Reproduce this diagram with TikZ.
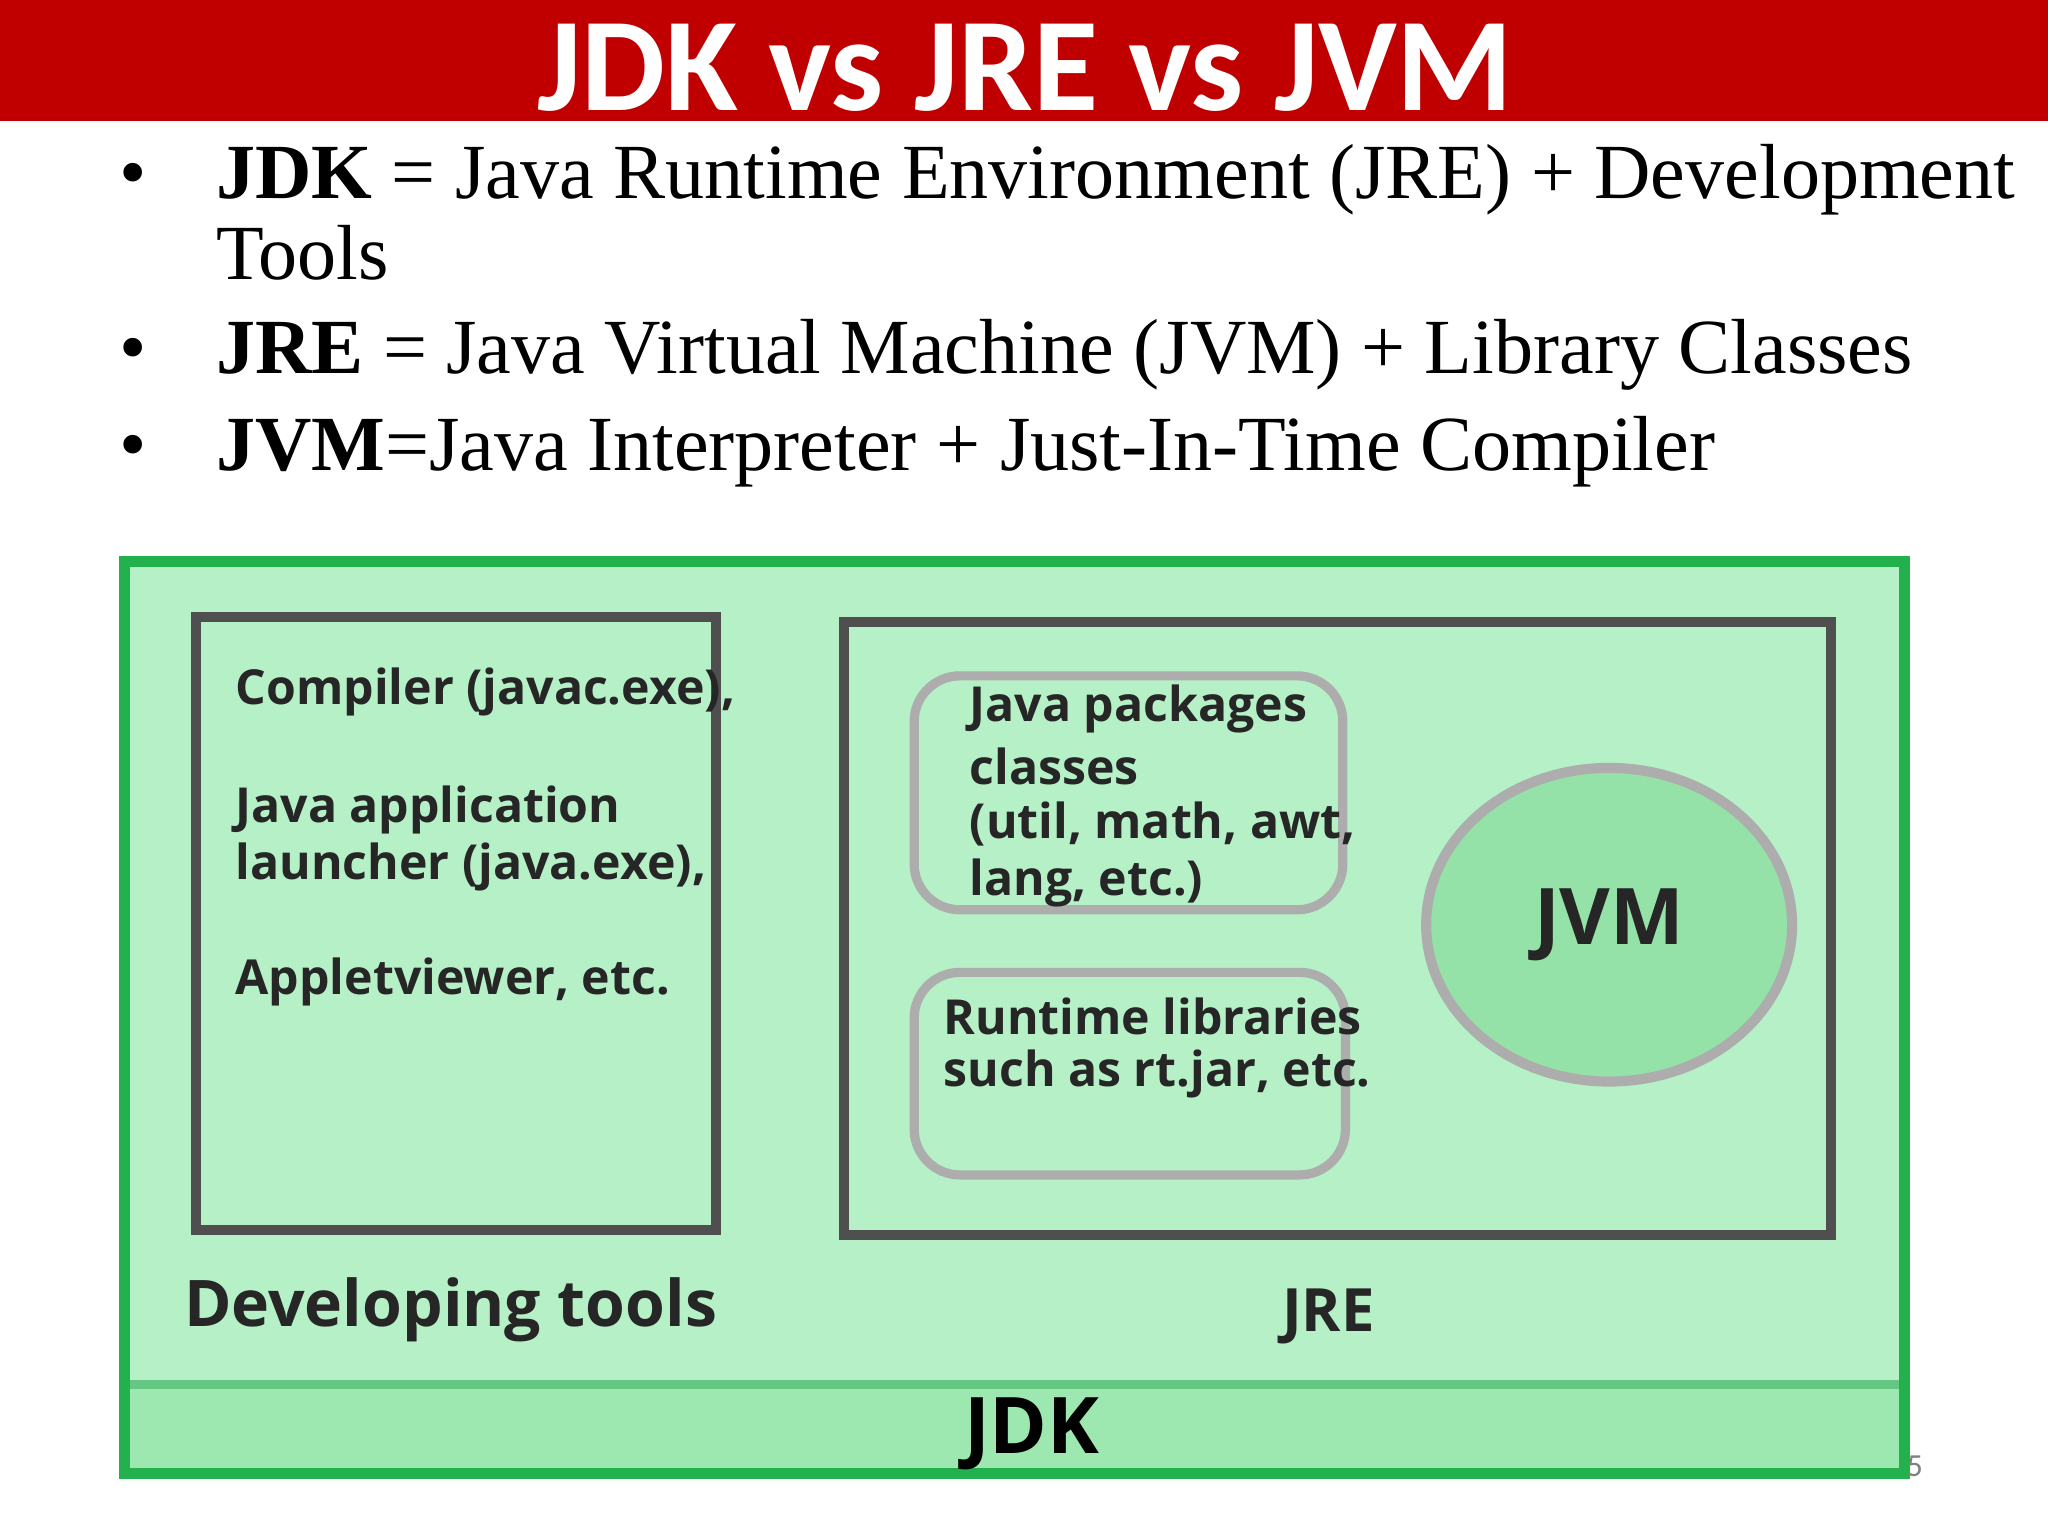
\documentclass[tikz,border=0pt]{standalone}
\usepackage{fontspec}
\setmainfont{Liberation Serif}
\setsansfont{Carlito}
\newfontfamily\boxfont{Open Sans}
\usepackage{xcolor}
\definecolor{bannerRed}{HTML}{C00000}
\definecolor{jdkGreen}{HTML}{22B14C}
\definecolor{jdkFill}{HTML}{B5F0C6}
\definecolor{bandFill}{HTML}{9DE8B0}
\definecolor{boxGray}{HTML}{4F4F4F}
\definecolor{roundGray}{HTML}{ADADAD}
\definecolor{jvmFill}{HTML}{95E2A8}
\usetikzlibrary{positioning,calc,shapes.geometric}
\tikzset{
  toolBox/.style={
    rectangle,
    draw=boxGray,
    line width=2.2pt
 },
  libBox/.style={
    rectangle,
    rounded corners=0.35cm,
    draw=roundGray,
    line width=2pt
 },
  boxText/.style={
    anchor=west,
    font=\boxfont\bfseries\fontsize{10.5}{12}\selectfont,
    text=black!85
 },
  bulletText/.style={
    anchor=base west,
    font=\fontsize{17}{20}\selectfont
 }
}
\begin{document}
\begin{tikzpicture}[x=0.01cm,y=-0.01cm]
  \useasboundingbox (0,0) rectangle (1568,1176);
  \fill[white] (0,0) rectangle (1568,1176);

  % banner
  \fill[bannerRed] (0,0) rectangle (1568,93);
  \node[text=white, font=\sffamily\bfseries\fontsize{29}{32}\selectfont] (title) at (785,52) {JDK vs JRE vs JVM};

  % bullets
  \foreach \y in {152,286,360}
    \node[anchor=base, font=\fontsize{17}{20}\selectfont] at (102,\y) {\textbullet};
  \node[bulletText] (jdkline) at (153,152) {\textbf{JDK} = Java Runtime Environment (JRE) + Development};
  \node[bulletText] (tools) at (153,214) {Tools};
  \node[bulletText] (jreline) at (153,286) {\textbf{JRE} = Java Virtual Machine (JVM) + Library Classes};
  \node[bulletText] (jvmline) at (153,360) {\textbf{JVM}=Java Interpreter + Just-In-Time Compiler};

  % JDK frame
  \fill[jdkFill] (95,430) rectangle (1458,1128);
  \fill[bandFill] (95,1060) rectangle (1458,1128);
  \draw[jdkGreen!70, line width=2pt] (95,1060) -- (1458,1060);
  \draw[jdkGreen, line width=2.4pt] (95,430) rectangle (1458,1128);
  \node[font=\boxfont\bfseries\fontsize{17}{20}\selectfont] (jdk) at (790,1098) {JDK};

  % developing tools
  \node[toolBox, minimum width=3.98cm, minimum height=4.69cm] (devbox) at (349,707) {};
  \node[boxText] (compiler) at (168,530) {Compiler (javac.exe),};
  \node[boxText] (launcher1) at (168,620) {Java application};
  \node[boxText] (launcher2) at (168,664) {launcher (java.exe),};
  \node[boxText] (applet) at (168,752) {Appletviewer, etc.};
  \node[font=\boxfont\bfseries\fontsize{14}{16}\selectfont, text=black!85] (devlabel) at (345,1003) {Developing tools};

  % JRE
  \node[toolBox, minimum width=7.55cm, minimum height=4.69cm] (jrebox) at (1024,711) {};
  \node[libBox, minimum width=3.28cm, minimum height=1.79cm] (pkgbox) at (864,607) {};
  \node[boxText] (pkg1) at (730,543) {Java packages};
  \node[boxText] (pkg2) at (730,587) {classes};
  \node[boxText] (pkg3) at (730,631) {(util, math, awt,};
  \node[boxText] (pkg4) at (730,676) {lang, etc.)};
  \node[libBox, minimum width=3.3cm, minimum height=1.55cm] (rtbox) at (865,822) {};
  \node[boxText] (rt1) at (710,778) {Runtime libraries};
  \node[boxText] (rt2) at (710,822) {such as rt.jar, etc.};
  \node[ellipse, draw=roundGray, line width=2.2pt, fill=jvmFill, minimum width=2.8cm, minimum height=2.4cm] (jvm) at (1232,708) {};
  \node[font=\boxfont\bfseries\fontsize{17}{20}\selectfont, text=black!85] (jvmlabel) at (jvm) {JVM};
  \node[font=\boxfont\bfseries\fontsize{13}{16}\selectfont, text=black!85] (jrelabel) at (1017,1008) {JRE};

  % page number
  \node[text=gray, font=\sffamily\fontsize{7}{8}\selectfont] (page) at (1466,1123) {5};
\end{tikzpicture}
\end{document}
